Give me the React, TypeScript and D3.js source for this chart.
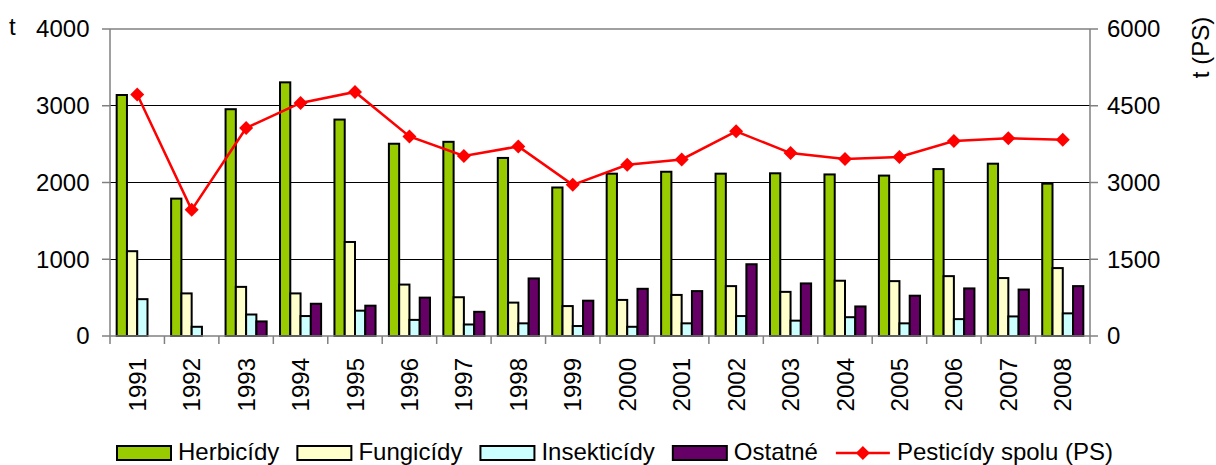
import React, { useEffect, useRef } from "react";
import * as d3 from "d3";

const years = ["1991","1992","1993","1994","1995","1996","1997","1998","1999","2000","2001","2002","2003","2004","2005","2006","2007","2008"];
const herbicidy = [3140, 1790, 2955, 3305, 2820, 2505, 2530, 2320, 1935, 2115, 2140, 2115, 2120, 2105, 2090, 2175, 2245, 1985];
const fungicidy = [1105, 555, 640, 555, 1225, 670, 505, 435, 390, 470, 535, 650, 575, 720, 715, 780, 755, 885];
const insekticidy = [480, 120, 280, 260, 330, 210, 150, 165, 130, 120, 165, 260, 200, 245, 165, 220, 255, 295];
const ostatne = [0, 0, 190, 420, 395, 500, 315, 750, 460, 615, 585, 935, 685, 385, 525, 620, 605, 650];
const spolu = [4720, 2465, 4065, 4555, 4770, 3900, 3520, 3705, 2955, 3345, 3450, 4000, 3575, 3460, 3500, 3810, 3865, 3835];

const leftTicks = [0, 1000, 2000, 3000, 4000];
const rightTicks = [0, 1500, 3000, 4500, 6000];

const barSeries = [
  { name: "Herbicídy", values: herbicidy, color: "#99CC00" },
  { name: "Fungicídy", values: fungicidy, color: "#FFFFCC" },
  { name: "Insekticídy", values: insekticidy, color: "#CCFFFF" },
  { name: "Ostatné", values: ostatne, color: "#660066" },
];
const lineName = "Pesticídy spolu (PS)";

const W = 1216, H = 465;
const FONT = "'Liberation Sans', Arial, sans-serif";

export default function App() {
  const ref = useRef<SVGSVGElement>(null);
  useEffect(() => {
    const svg = d3.select(ref.current);
    svg.selectAll("*").remove();
    const L = 110, R = 1090, T = 29, B = 336;
    const x = d3.scaleBand().domain(years).range([L, R]).padding(0);
    const bw = x.bandwidth();
    const gap = bw - (bw / 5.3) * 4;
    const xs = d3.scaleBand().domain(barSeries.map(s => s.name)).range([gap / 2, bw - gap / 2]).padding(0);
    const y = d3.scaleLinear().domain([0, 4000]).range([B, T]);
    const y2 = d3.scaleLinear().domain([0, 6000]).range([B, T]);

    // gridlines
    svg.append("g").selectAll("line").data(leftTicks.filter(t => t > 0 && t < 4000)).join("line")
      .attr("x1", L).attr("x2", R).attr("y1", d => y(d)).attr("y2", d => y(d))
      .attr("stroke", "#000").attr("stroke-width", 1).attr("shape-rendering", "crispEdges");
    // top border
    svg.append("line").attr("x1", L).attr("x2", R).attr("y1", T).attr("y2", T)
      .attr("stroke", "#808080").attr("stroke-width", 1.5);

    // bars
    barSeries.forEach(s => {
      svg.append("g").selectAll("rect").data(s.values.map((v, i) => ({ v, i })).filter(d => d.v > 0)).join("rect")
        .attr("x", d => (x(years[d.i]) as number) + (xs(s.name) as number))
        .attr("y", d => y(d.v))
        .attr("width", xs.bandwidth())
        .attr("height", d => B - y(d.v))
        .attr("fill", s.color).attr("stroke", "#000").attr("stroke-width", 2);
    });

    // axes lines
    const axisColor = "#808080";
    svg.append("line").attr("x1", L).attr("x2", L).attr("y1", T).attr("y2", B).attr("stroke", axisColor).attr("stroke-width", 1.5);
    svg.append("line").attr("x1", R).attr("x2", R).attr("y1", T).attr("y2", B).attr("stroke", axisColor).attr("stroke-width", 1.5);
    svg.append("line").attr("x1", L).attr("x2", R).attr("y1", B).attr("y2", B).attr("stroke", axisColor).attr("stroke-width", 1.5);
    // left ticks
    svg.append("g").selectAll("line").data(leftTicks).join("line")
      .attr("x1", L - 8).attr("x2", L).attr("y1", d => y(d)).attr("y2", d => y(d)).attr("stroke", axisColor).attr("stroke-width", 1.5);
    svg.append("g").selectAll("line").data(rightTicks).join("line")
      .attr("x1", R).attr("x2", R + 8).attr("y1", d => y2(d)).attr("y2", d => y2(d)).attr("stroke", axisColor).attr("stroke-width", 1.5);
    // bottom ticks
    const bticks = years.map(yr => x(yr) as number).concat([R]);
    svg.append("g").selectAll("line").data(bticks).join("line")
      .attr("x1", d => d).attr("x2", d => d).attr("y1", B).attr("y2", B + 8).attr("stroke", axisColor).attr("stroke-width", 1.5);

    // tick labels
    svg.append("g").selectAll("text").data(leftTicks).join("text")
      .attr("x", 89.5).attr("y", d => y(d)).attr("dy", "0.35em").attr("text-anchor", "end")
      .attr("font-family", FONT).attr("font-size", 24).text(d => String(d));
    svg.append("g").selectAll("text").data(rightTicks).join("text")
      .attr("x", 1107).attr("y", d => y2(d)).attr("dy", "0.35em").attr("text-anchor", "start")
      .attr("font-family", FONT).attr("font-size", 24).text(d => String(d));
    svg.append("g").selectAll("text").data(years).join("text")
      .attr("transform", d => `translate(${(x(d) as number) + bw / 2 + 8.5},358) rotate(-90)`)
      .attr("text-anchor", "end").attr("font-family", FONT).attr("font-size", 24).text(d => d);

    // axis titles
    svg.append("text").attr("x", 9).attr("y", 35).attr("font-family", FONT).attr("font-size", 24).text("t");
    svg.append("text").attr("transform", "translate(1208.5,47.5) rotate(-90)").attr("text-anchor", "middle")
      .attr("font-family", FONT).attr("font-size", 24).text("t (PS)");

    // line
    const cx = (i: number) => (x(years[i]) as number) + bw / 2;
    const line = d3.line<number>().x((_, i) => cx(i)).y(d => y2(d));
    svg.append("path").attr("d", line(spolu)).attr("fill", "none").attr("stroke", "#FF0000").attr("stroke-width", 2.5);
    const diamond = (s: number) => `M0,${-s}L${s},0L0,${s}L${-s},0Z`;
    svg.append("g").selectAll("path").data(spolu).join("path")
      .attr("transform", (d, i) => `translate(${cx(i)},${y2(d)})`)
      .attr("d", diamond(7)).attr("fill", "#FF0000");

    // legend
    const lg = svg.append("g");
    let lx = 117;
    const ly = 446, lh = 14, lbw = 54;
    const baseline = 459.5;
    barSeries.forEach(s => {
      lg.append("rect").attr("x", lx).attr("y", ly).attr("width", lbw).attr("height", lh)
        .attr("fill", s.color).attr("stroke", "#000").attr("stroke-width", 2);
      const t = lg.append("text").attr("x", lx + lbw + 7).attr("y", baseline).attr("font-family", FONT).attr("font-size", 24).text(s.name);
      const w = (t.node() as SVGTextElement).getComputedTextLength();
      lx = lx + lbw + 7 + w + 18;
    });
    lg.append("line").attr("x1", lx).attr("x2", lx + lbw).attr("y1", ly + lh / 2).attr("y2", ly + lh / 2)
      .attr("stroke", "#FF0000").attr("stroke-width", 2.5);
    lg.append("path").attr("transform", `translate(${lx + lbw / 2},${ly + lh / 2})`).attr("d", diamond(7)).attr("fill", "#FF0000");
    lg.append("text").attr("x", lx + lbw + 7).attr("y", baseline).attr("font-family", FONT).attr("font-size", 24).text(lineName);
  }, []);
  return (
    <svg ref={ref} width={W} height={H} style={{ position: "absolute", left: 0, top: 0, background: "#fff" }} />
  );
}
